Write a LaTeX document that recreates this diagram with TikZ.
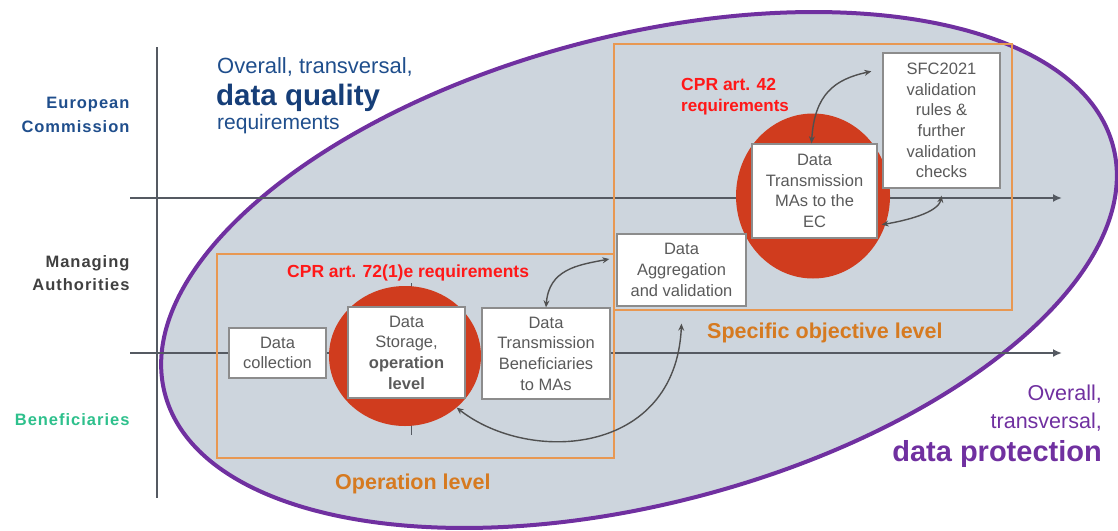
\documentclass[tikz,border=0pt]{standalone}
\usepackage{fontspec}
\setmainfont{Liberation Sans}
\newfontfamily\sidefont[LetterSpace=6]{Liberation Sans}
\usetikzlibrary{shapes.geometric,arrows.meta}
\usepackage{xcolor}

\definecolor{ecblue}{RGB}{31,78,140}
\definecolor{qualityblue}{RGB}{22,62,120}
\definecolor{magrey}{RGB}{64,64,64}
\definecolor{bengreen}{RGB}{46,192,140}
\definecolor{cprred}{RGB}{255,24,24}
\definecolor{levelorange}{RGB}{214,122,32}
\definecolor{frameorange}{RGB}{232,152,82}
\definecolor{reqred}{RGB}{208,60,30}
\definecolor{cloudgrey}{RGB}{205,213,221}
\definecolor{protpurple}{RGB}{112,48,160}
\definecolor{boxline}{RGB}{140,140,140}
\definecolor{boxtext}{RGB}{90,90,90}
\definecolor{flowgrey}{RGB}{80,80,80}
\definecolor{axisgrey}{RGB}{85,90,98}

\begin{document}
\begin{tikzpicture}[x=1pt,y=-1pt,
    databox/.style={draw=boxline,line width=1.3pt,fill=white,text=boxtext,align=center,
        inner sep=0pt,font=\fontsize{16.5}{20.7}\selectfont},
    reqcircle/.style={ellipse,fill=reqred,inner sep=0pt},
    flow/.style={flowgrey,line width=1.4pt,{Stealth[length=7pt,width=6pt]}-{Stealth[length=7pt,width=6pt]}},
    axis/.style={axisgrey,line width=1.8pt},
    levelframe/.style={frameorange,line width=1.8pt}]
    \useasboundingbox (0,0) rectangle (1118,530);

    % draw the data protection ellipse
    \filldraw[fill=cloudgrey,draw=protpurple,line width=4pt,shift={(639,270)},rotate=14.6]
        (0,0) ellipse [x radius=490,y radius=234];

    % draw the axes
    \draw[axis] (157,47) -- (157,498);
    \draw[axis,-{Latex[length=9pt,width=8pt]}] (130,198) -- (1062,198);
    \draw[axis,-{Latex[length=9pt,width=8pt]}] (130,353) -- (1062,353);

    % the two levels
    \draw[levelframe] (217,254) rectangle (614,458);
    \draw[levelframe] (614,44) rectangle (1012,310);

    % tick behind the operation circle
    \draw[axisgrey,line width=1pt] (411,283) -- (411,435);

    % requirement circles
    \node[reqcircle,minimum width=152pt,minimum height=140pt] (opcircle) at (405,356) {};
    \node[reqcircle,minimum width=154pt,minimum height=165pt] (socircle) at (813,196) {};

    % process boxes
    \node[databox,minimum width=97pt,minimum height=50pt] (collect) at (277.5,353) {Data\\collection};
    \node[databox,minimum width=117pt,minimum height=91pt] (store) at (406.5,352.5)
        {Data\\Storage,\\\textbf{operation}\\\textbf{level}};
    \node[databox,minimum width=128pt,minimum height=91pt] (dtben) at (546,353.5)
        {Data\\Transmission\\Beneficiaries\\to MAs};
    \node[databox,minimum width=129pt,minimum height=72pt] (agg) at (681.5,270)
        {Data\\Aggregation\\and validation};
    \node[databox,minimum width=125pt,minimum height=94pt] (dtec) at (814.5,191)
        {Data\\Transmission\\MAs to the\\EC};
    \node[databox,minimum width=117pt,minimum height=135pt] (sfc) at (941.5,120.5)
        {SFC2021\\validation\\rules \&\\further\\validation\\checks};

    % exchanges
    \draw[flow] (dtben.north) .. controls +(3,-38) and +(-32,6) .. ([shift={(-7pt,11pt)}]agg.west);
    \draw[flow] (opcircle.-45) .. controls +(73,57) and +(-6,132) .. ([yshift=-17pt]agg.south);
    \draw[flow] ([xshift=-3pt]dtec.north) .. controls +(3,-49) and +(-37,8) .. ([shift={(-11pt,-19pt)}]sfc.north west);
    \draw[flow] ([yshift=-7pt]sfc.south) .. controls +(-3,17) and +(24,-4) .. ([shift={(4pt,14pt)}]dtec.south east);

    % actors
    \node[anchor=east,align=right,text=ecblue,font=\sidefont\bfseries\fontsize{16.5}{24}\selectfont]
        (ec) at (133,115) {European\\Commission};
    \node[anchor=east,align=right,text=magrey,font=\sidefont\bfseries\fontsize{16.5}{23}\selectfont]
        (ma) at (133,273.5) {Managing\\Authorities};
    \node[anchor=base east,text=bengreen,font=\sidefont\bfseries\fontsize{16.5}{20}\selectfont]
        (ben) at (133,425) {Beneficiaries};

    % data quality text
    \node[anchor=base west,inner sep=0pt,text=ecblue,font=\fontsize{22}{24}\selectfont]
        (qualityA) at (217,73) {Overall, transversal,};
    \node[anchor=base west,inner sep=0pt,text=qualityblue,font=\bfseries\fontsize{29.5}{30}\selectfont]
        (qualityB) at (216,105) {data quality};
    \node[anchor=base west,inner sep=0pt,text=ecblue,font=\fontsize{21}{24}\selectfont]
        (qualityC) at (217,129) {requirements};

    % requirements
    \node[anchor=base west,inner sep=0pt,text=cprred,font=\bfseries\fontsize{17.5}{20}\selectfont]
        (art42) at (681,90) {CPR art. 42};
    \node[anchor=base west,inner sep=0pt,text=cprred,font=\bfseries\fontsize{17}{20}\selectfont]
        (art42req) at (681,111) {requirements};
    \node[anchor=base west,inner sep=0pt,text=cprred,font=\bfseries\fontsize{17.5}{20}\selectfont]
        (art72) at (287,277) {CPR art. 72(1)e requirements};

    % level names
    \node[anchor=base west,inner sep=0pt,text=levelorange,font=\bfseries\fontsize{21.5}{24}\selectfont]
        (solevel) at (707,338) {Specific objective level};
    \node[anchor=base west,inner sep=0pt,text=levelorange,font=\bfseries\fontsize{21.5}{24}\selectfont]
        (oplevel) at (335,489) {Operation level};

    % data protection text
    \node[anchor=base east,inner sep=0pt,text=protpurple,font=\fontsize{21.5}{24}\selectfont]
        (protA) at (1102,400) {Overall,};
    \node[anchor=base east,inner sep=0pt,text=protpurple,font=\fontsize{21.5}{24}\selectfont]
        (protB) at (1102,428) {transversal,};
    \node[anchor=base east,inner sep=0pt,text=protpurple,font=\bfseries\fontsize{29}{32}\selectfont]
        (protC) at (1102,461) {data protection};
\end{tikzpicture}
\end{document}
